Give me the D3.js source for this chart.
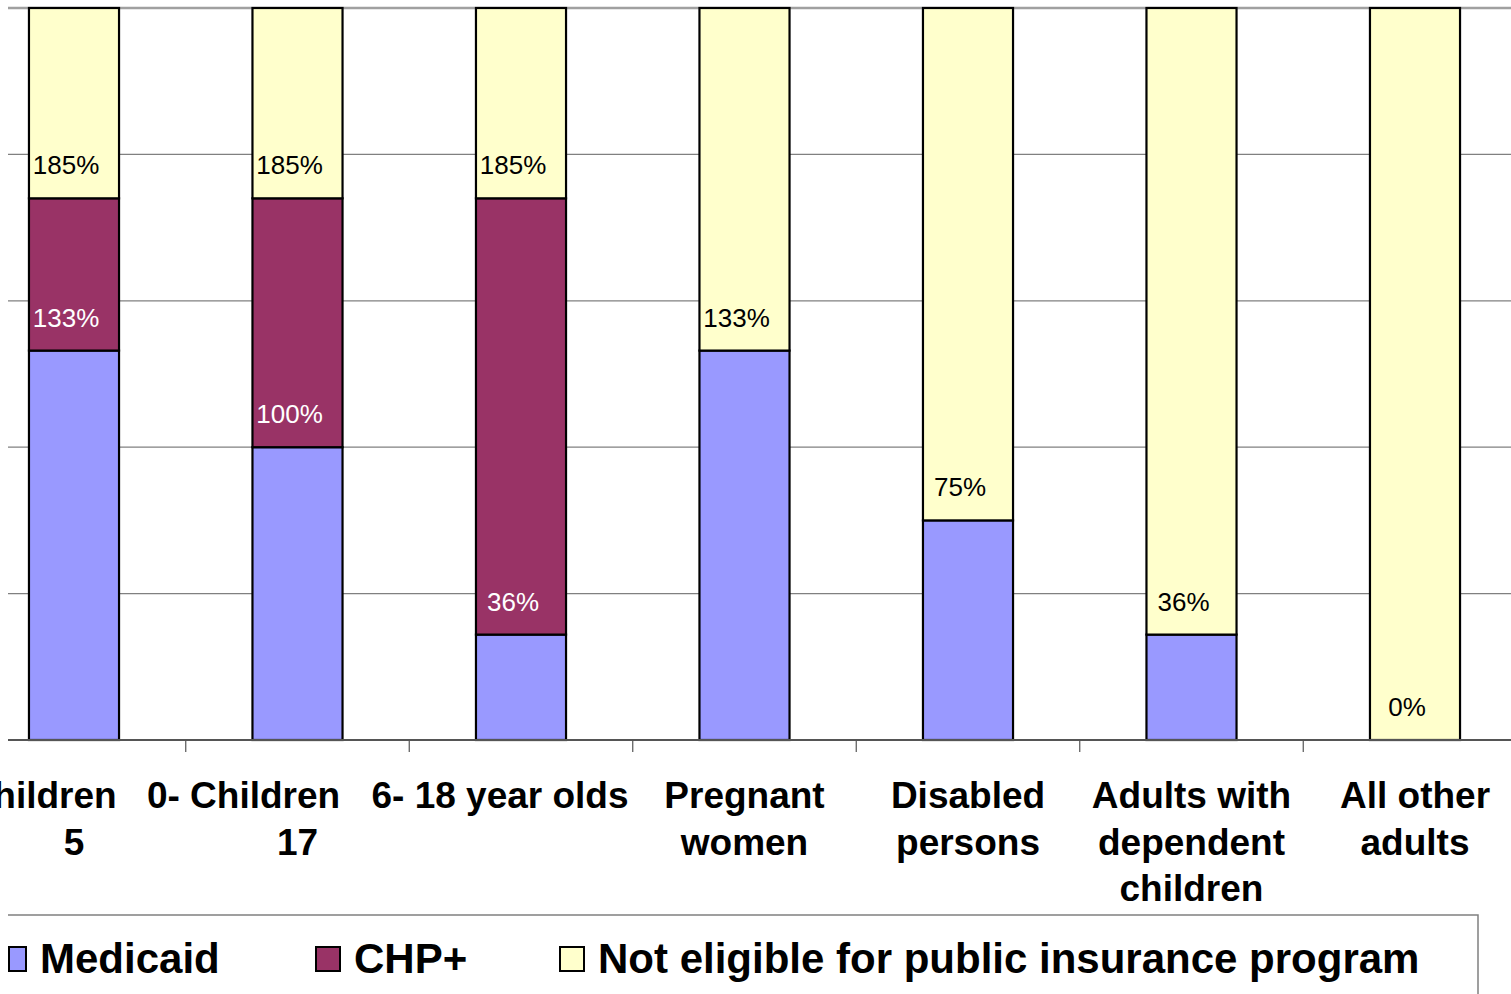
<!DOCTYPE html>
<html><head><meta charset="utf-8">
<script src="https://cdn.jsdelivr.net/npm/d3@7"></script>
<style>html,body{margin:0;padding:0;background:#fff;overflow:hidden}svg{display:block}</style>
</head><body>
<script>
// ---- data ----
const categories = ["Children 0-5", "Children 0-17", "6-18 year olds", "Pregnant women", "Disabled persons", "Adults with dependent children", "All other adults"];
const categoryLines = [["0- Children", "5"], ["0- Children", "17"], ["6- 18 year olds"], ["Pregnant", "women"], ["Disabled", "persons"], ["Adults with", "dependent", "children"], ["All other", "adults"]];
const seriesNames = ["Medicaid", "CHP+", "Not eligible for public insurance program"];
const medicaid = [133, 100, 36, 133, 75, 36, 0];
const chpPlus = [52, 85, 149, 0, 0, 0, 0];
const notEligible = [65, 65, 65, 117, 175, 214, 250];
const gridTicks = [0, 50, 100, 150, 200, 250];

// ---- layout ----
const W = 1511, H = 994;
const colors = {"Medicaid": "#9999FF", "CHP+": "#993366", "Not eligible for public insurance program": "#FFFFCC"};
const labelColors = {"Medicaid": "#000", "CHP+": "#fff", "Not eligible for public insurance program": "#000"};
const lineShift = [-54, -54, -21, 0, 0, 0, 0];

const svg = d3.select("body").append("svg").attr("width", W).attr("height", H)
  .style("font-family", "'Liberation Sans', Arial, sans-serif");

const x = d3.scaleBand().domain(categories).range([-37.75, 1526.75]).paddingInner(0.597).paddingOuter(0.2985);
const y = d3.scaleLinear().domain([0, 250]).range([740, 8]);

// gridlines
svg.append("g").selectAll("line").data(gridTicks.filter(t => t > 0)).join("line")
  .attr("x1", 8).attr("x2", W).attr("y1", d => y(d)).attr("y2", d => y(d))
  .attr("stroke", d => d === 250 ? "#a0a0a0" : "#808080")
  .attr("stroke-width", d => d === 250 ? 2.5 : 1.2);

const rows = categories.map((c, i) => ({cat: c, "Medicaid": medicaid[i], "CHP+": chpPlus[i], "Not eligible for public insurance program": notEligible[i]}));
const stack = d3.stack().keys(seriesNames)(rows);

// bars
const gBars = svg.append("g");
stack.forEach(layer => {
  gBars.selectAll(null).data(layer.filter(d => d[1] - d[0] > 0)).join("rect")
    .attr("x", d => x(d.data.cat)).attr("width", x.bandwidth())
    .attr("y", d => y(d[1])).attr("height", d => y(d[0]) - y(d[1]))
    .attr("fill", colors[layer.key]).attr("stroke", "#000").attr("stroke-width", 2.2);
});

// baseline axis
const axisG = svg.append("g");
axisG.append("line").attr("x1", 8).attr("x2", W).attr("y1", y(0)).attr("y2", y(0)).attr("stroke", "#555").attr("stroke-width", 2);
const step = x.step();
axisG.selectAll("line.tick").data(categories.slice(1)).join("line").attr("class", "tick")
  .attr("x1", d => x(d) + x.bandwidth() / 2 - step / 2).attr("x2", d => x(d) + x.bandwidth() / 2 - step / 2)
  .attr("y1", y(0)).attr("y2", y(0) + 12).attr("stroke", "#555").attr("stroke-width", 1.2);

// data labels: boundary value drawn in segment above
const labels = [];
categories.forEach((c, i) => {
  const m = medicaid[i];
  const segAbove = chpPlus[i] > 0 ? "CHP+" : "Not eligible for public insurance program";
  labels.push({cat: c, v: m, color: labelColors[segAbove]});
  if (chpPlus[i] > 0) labels.push({cat: c, v: m + chpPlus[i], color: labelColors["Not eligible for public insurance program"]});
});
svg.append("g").selectAll("text").data(labels).join("text")
  .attr("x", d => x(d.cat) + x.bandwidth() / 2 - 8).attr("y", d => y(d.v) - 24)
  .attr("text-anchor", "middle").attr("font-size", 26).attr("fill", d => d.color)
  .text(d => d.v + "%");

// category labels
const catG = svg.append("g");
categories.forEach((c, i) => {
  const cx = x(c) + x.bandwidth() / 2;
  categoryLines[i].forEach((ln, j) => {
    catG.append("text").attr("x", cx + (j === 0 ? lineShift[i] : 0)).attr("y", 808 + j * 46.5)
      .attr("text-anchor", "middle").attr("font-size", 37).attr("font-weight", "bold").attr("fill", "#000")
      .text(ln);
  });
});

// legend
const lg = svg.append("g");
lg.append("path").attr("d", `M8,915 H1478 V${H + 5}`).attr("fill", "none").attr("stroke", "#808080").attr("stroke-width", 1.5);
const legendX = [2, 316, 560];
const legendG = lg.selectAll("g").data(seriesNames).join("g").attr("transform", (d, i) => `translate(${legendX[i]},947)`);
legendG.append("rect").attr("x", (d, i) => i === 0 ? 7 : 0).attr("width", (d, i) => i === 0 ? 17 : 24).attr("height", 24)
  .attr("fill", d => colors[d]).attr("stroke", "#000").attr("stroke-width", 2);
legendG.append("text").attr("x", 38).attr("y", 26).attr("font-size", 42).attr("font-weight", "bold").attr("fill", "#000").text(d => d);
</script>
</body></html>
